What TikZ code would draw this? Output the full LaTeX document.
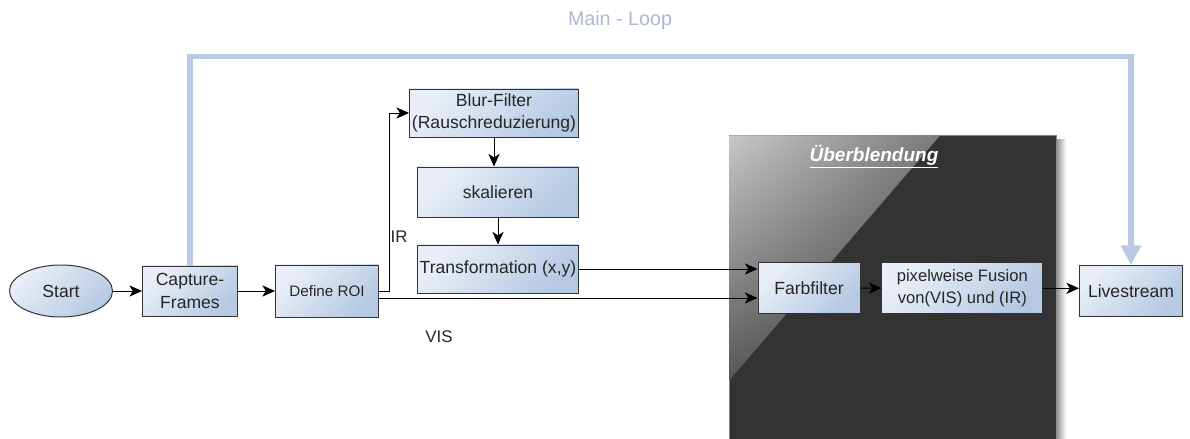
\documentclass[tikz,border=0pt]{standalone}
\usepackage{fontspec}
\setmainfont{Liberation Sans}
\usetikzlibrary{shapes.geometric, arrows.meta, calc, shadings}
\definecolor{boxlight}{HTML}{EAEFF7}
\definecolor{boxdark}{HTML}{B5C9E3}
\definecolor{loopblue}{HTML}{B9C9E2}
\definecolor{looptext}{HTML}{AAB8D0}
\definecolor{darkpanel}{HTML}{333333}

\begin{document}
\begin{tikzpicture}[x=0.025cm, y=-0.025cm,
    block/.style={draw=black!80, line width=0.7pt, top color=boxlight, bottom color=boxdark, shading angle=45,
        align=center, inner sep=1pt, text=black!85, font=\fontsize{12.5}{16}\selectfont},
    arr/.style={line width=0.7pt, -{Stealth[length=9pt,width=8pt,inset=2.5pt]}},
    mainloop/.style={draw=loopblue, line width=3.6pt, -{Triangle[length=14pt,width=14pt]}},
    lbl/.style={text=black!85, font=\fontsize{12}{14}\selectfont}]
    \useasboundingbox (0,0) rectangle (1190,439);

    \fill[darkpanel, draw=black!50, line width=0.5pt] (729,135) rectangle (1056,439);
    \shade[upper left=black!22, upper right=black!52, lower left=black!66, lower right=black!80]
        (729.5,135.5) -- (940,135.5) -- (729.5,380) -- cycle;
    \shade[left color=black!45, right color=white] (1056,140) rectangle (1066,439);
    \node[text=white, font=\bfseries\itshape\fontsize{13.5}{16}\selectfont] (title) at (874,157) {\underline{Überblendung}};

    \node[block, ellipse, minimum width=2.575cm, minimum height=1.3cm] (start) at (61,291) {Start};
    \node[block, minimum width=2.375cm, minimum height=1.25cm] (capture) at (190,291) {Capture-\\Frames};
    \node[block, minimum width=2.575cm, minimum height=1.3cm, font=\fontsize{10.8}{13}\selectfont] (roi) at (327,291) {Define ROI};
    \node[block, minimum width=4.225cm, minimum height=1.2cm] (blur) at (494,113) {Blur-Filter\\(Rauschreduzierung)};
    \node[block, minimum width=4.025cm, minimum height=1.25cm] (skal) at (498,192) {skalieren};
    \node[block, minimum width=4.025cm, minimum height=1.2cm] (trans) at (498,269) {Transformation (x,y)};
    \node[block, minimum width=2.55cm, minimum height=1.275cm] (farb) at (809,288) {Farbfilter};
    \node[block, minimum width=4.02cm, minimum height=1.27cm, font=\fontsize{11.8}{15.5}\selectfont] (fusion) at (962.3,288.3) {pixelweise Fusion\\von(VIS) und (IR)};
    \node[block, minimum width=2.575cm, minimum height=1.275cm] (live) at (1131,291) {Livestream};

    \node[lbl] (ir) at (399,237) {IR};
    \node[lbl] (vis) at (439,337) {VIS};
    \node[text=looptext, font=\fontsize{14}{16}\selectfont] (looplabel) at (620,20) {Main - Loop};

    \draw[arr] (start) -- (capture);
    \draw[arr] (capture) -- (roi);
    \draw[arr] (roi.east) -- ++(10,0) |- (blur.west);
    \draw[arr] (blur.south) -- (blur.south |- skal.north);
    \draw[arr] (skal) -- (trans);
    \draw[arr] (trans.east) -- (trans.east -| farb.west);
    \coordinate (visout) at ($(roi.east)+(0,7)$);
    \draw[arr] (visout) -- (visout -| farb.west);
    \draw[arr] (farb) -- (fusion);
    \draw[arr] (fusion.east) -- (fusion.east -| live.west);

    \draw[mainloop] (capture.north) -- ++(0,-209) -| (live.north);
\end{tikzpicture}
\end{document}
